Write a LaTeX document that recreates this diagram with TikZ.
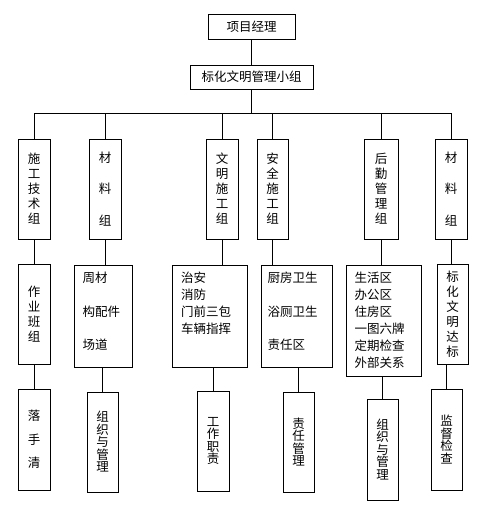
\documentclass[tikz,border=0pt]{standalone}
\usepackage{fontspec}
\setmainfont{Noto Sans CJK SC}

\begin{document}
\begin{tikzpicture}[x=1pt, y=-1pt, line width=1pt,
    box/.style={draw, inner sep=0pt, align=center, font=\fontsize{12.5}{15}\selectfont},
    tall/.style={box, minimum width=32pt, minimum height=100pt},
    spread/.style={font=\fontsize{12.5}{#1}\selectfont},
    list/.style={inner sep=0pt, align=left, anchor=north west, spread=#1}]

        \useasboundingbox (0,0) rectangle (481,506);

        % Head of the chart
        \node[box, minimum width=87pt, minimum height=25pt] (pm) at (251.5,26.5) {项目经理};
        \node[box, minimum width=123pt, minimum height=24pt] (grp) at (251.5,77) {标化文明管理小组};

        % First row (groups)
        \node[tall] (tech) at (34,189) {施\\工\\技\\术\\组};
        \node[tall, spread=31.5] (mat) at (105,189) {材\\料\\组};
        \node[tall] (civil) at (222,189) {文\\明\\施\\工\\组};
        \node[tall, minimum width=31pt] (safe) at (272.5,189) {安\\全\\施\\工\\组};
        \node[tall, minimum width=34pt] (logi) at (381,189) {后\\勤\\管\\理\\组};
        \node[tall, spread=31.5] (matb) at (451,189) {材\\料\\组};

        % Second row (tasks)
        \node[tall] (crew) at (34,314) {作\\业\\班\\组};
        \node[box, minimum width=58pt, minimum height=102pt] (matlist) at (103,316) {};
        \node[box, minimum width=75pt, minimum height=102pt] (civlist) at (209.5,316) {};
        \node[box, minimum width=71pt, minimum height=102pt] (safelist) at (296.5,316) {};
        \node[box, minimum width=75pt, minimum height=111pt] (logilist) at (383.5,320.5) {};
        \node[tall, minimum width=31pt] (std) at (452.5,314) {标\\化\\文\\明\\达\\标};

        % Texts of the task boxes
        \node[list=33.5] (matT) at (82,271.5) {周材\\构配件\\场道};
        \node[list=17] (civT) at (180.5,271.5) {治安\\消防\\门前三包\\车辆指挥};
        \node[list=33.5] (safeT) at (267,271.5) {厨房卫生\\浴厕卫生\\责任区};
        \node[list=17] (logiT) at (354,271.5) {生活区\\办公区\\住房区\\一图六牌\\定期检查\\外部关系};

        % Third row (duties)
        \node[tall, minimum height=101pt, spread=23.5] (clean) at (34,439.5) {落\\手\\清};
        \node[tall, minimum width=31pt, spread=12.5] (org) at (102.5,442) {组\\织\\与\\管\\理};
        \node[tall, spread=12.5] (duty) at (213,441) {工\\作\\职\\责};
        \node[tall, minimum width=31pt, spread=12.5] (resp) at (298.5,442) {责\\任\\管\\理};
        \node[tall, minimum width=31pt, minimum height=101pt, spread=12.5] (orgb) at (382.5,449.5) {组\\织\\与\\管\\理};
        \node[tall, minimum width=31pt, minimum height=101pt, spread=12.5] (check) at (446.5,439.5) {监\\督\\检\\查};

        % Head to groups
        \draw (pm) -- (grp);
        \draw (grp.south) -- ++(0,24) coordinate (bus);
        \draw (bus) -| (tech.north);
        \draw (bus) -| (mat.north);
        \draw (bus) -| (civil.north);
        \draw (bus) -| (safe.north);
        \draw (bus) -| (logi.north);
        \draw (bus) -| (matb.north);

        % Groups to tasks
        \draw (tech.south) -- (tech.south |- crew.north);
        \draw (mat.south) -- (mat.south |- matlist.north);
        \draw (civil.south) -- (civil.south |- civlist.north);
        \draw (safe.south) -- (safe.south |- safelist.north);
        \draw (logi.south) -- (logi.south |- logilist.north);
        \draw (matb.south) -- (matb.south |- std.north);

        % Tasks to duties
        \draw (clean.north |- crew.south) -- (clean.north);
        \draw (org.north |- matlist.south) -- (org.north);
        \draw (duty.north |- civlist.south) -- (duty.north);
        \draw (resp.north |- safelist.south) -- (resp.north);
        \draw (orgb.north |- logilist.south) -- (orgb.north);
        \draw (check.north |- std.south) -- (check.north);

\end{tikzpicture}
\end{document}
